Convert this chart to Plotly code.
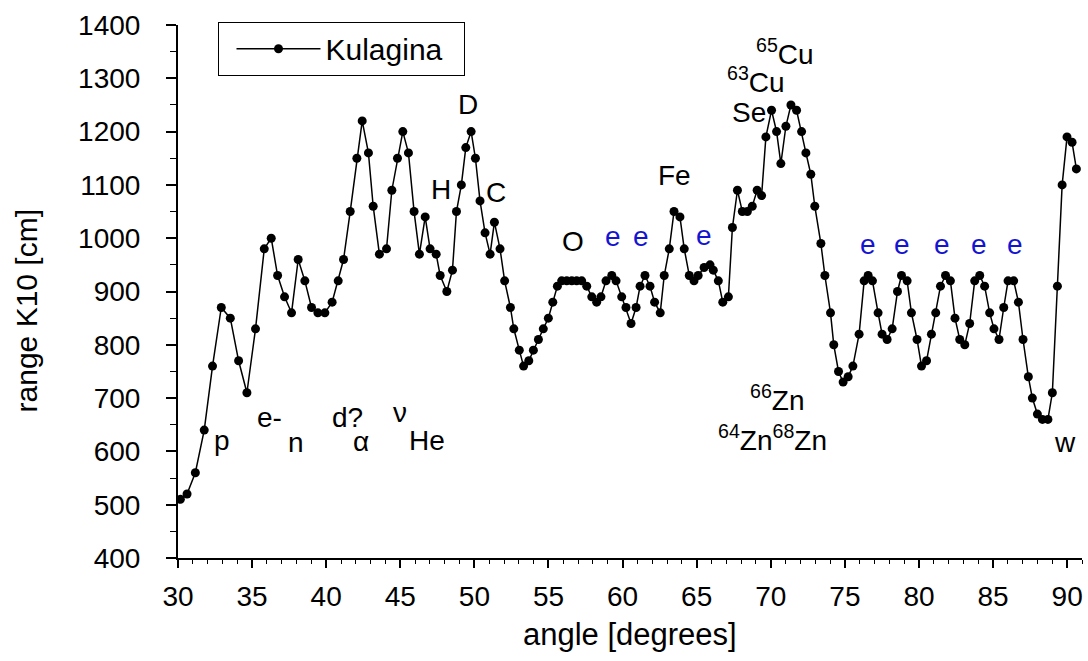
import plotly.graph_objects as go

# ---------------- data ----------------
angle = [30.16, 30.61, 31.17, 31.77, 32.33, 32.92, 33.53, 34.09, 34.65, 35.23,
         35.82, 36.29, 36.72, 37.19, 37.66, 38.11, 38.56, 39.01, 39.44, 39.91,
         40.40, 40.81, 41.17, 41.62, 42.07, 42.43, 42.85, 43.17, 43.59, 44.07,
         44.43, 44.81, 45.17, 45.55, 45.93, 46.29, 46.68, 47.01, 47.42, 47.69,
         48.14, 48.52, 48.79, 49.12, 49.42, 49.78, 50.07, 50.38, 50.72, 51.06,
         51.35, 51.73, 52.04, 52.43, 52.66, 53.03, 53.32, 53.67, 53.98, 54.32,
         54.65, 54.99, 55.29, 55.60, 55.89, 56.23, 56.57, 56.90, 57.24, 57.58,
         57.92, 58.25, 58.54, 58.88, 59.27, 59.56, 59.94, 60.23, 60.57, 60.91,
         61.18, 61.51, 61.85, 62.16, 62.54, 62.81, 63.15, 63.47, 63.87, 64.16,
         64.50, 64.82, 65.10, 65.50, 65.90, 66.12, 66.46, 66.76, 67.14, 67.41,
         67.75, 68.08, 68.42, 68.75, 69.08, 69.38, 69.67, 70.05, 70.39, 70.68,
         71.02, 71.36, 71.74, 72.08, 72.37, 72.70, 72.97, 73.38, 73.65, 74.03,
         74.25, 74.57, 74.88, 75.22, 75.54, 75.96, 76.30, 76.57, 76.86, 77.24,
         77.51, 77.85, 78.19, 78.55, 78.82, 79.20, 79.49, 79.87, 80.17, 80.51,
         80.84, 81.13, 81.45, 81.79, 82.12, 82.43, 82.75, 83.09, 83.42, 83.76,
         84.10, 84.43, 84.77, 85.06, 85.40, 85.72, 86.01, 86.39, 86.71, 87.02,
         87.38, 87.65, 87.99, 88.33, 88.70, 89.00, 89.34, 89.66, 89.99, 90.33,
         90.62]

range_k10 = [510, 520, 560, 640, 760, 870, 850, 770, 710, 830,
             980, 1000, 930, 890, 860, 960, 920, 870, 860, 860,
             880, 920, 960, 1050, 1150, 1220, 1160, 1060, 970, 980,
             1090, 1150, 1200, 1160, 1050, 970, 1040, 980, 970, 930,
             900, 940, 1050, 1100, 1170, 1200, 1150, 1070, 1010, 970,
             1030, 980, 920, 870, 830, 790, 760, 770, 790, 810,
             830, 850, 880, 910, 920, 920, 920, 920, 920, 910,
             890, 880, 890, 920, 930, 920, 890, 870, 840, 870,
             910, 930, 910, 880, 860, 930, 980, 1050, 1040, 980,
             930, 920, 930, 945, 950, 940, 920, 880, 890, 1020,
             1090, 1050, 1050, 1060, 1090, 1080, 1190, 1240, 1200, 1140,
             1210, 1250, 1240, 1200, 1160, 1120, 1060, 990, 930, 860,
             800, 750, 730, 740, 760, 820, 920, 930, 920, 860,
             820, 810, 830, 900, 930, 920, 860, 810, 760, 770,
             820, 860, 910, 930, 920, 850, 810, 800, 840, 920,
             930, 910, 860, 830, 810, 870, 920, 920, 880, 810,
             740, 700, 670, 660, 660, 710, 910, 1100, 1190, 1180,
             1130]

x_ticks = [30, 35, 40, 45, 50, 55, 60, 65, 70, 75, 80, 85, 90]
y_ticks = [400, 500, 600, 700, 800, 900, 1000, 1100, 1200, 1300, 1400]

# peak labels: text, angle, baseline value, colour
label_text = ["p", "e-", "n", "d?", "\u03b1", "\u03bd", "He", "H", "D", "C", "O",
              "e", "e", "e", "Fe", "Se",
              "<sup>63</sup>Cu", "<sup>65</sup>Cu", "<sup>66</sup>Zn",
              "<sup>64</sup>Zn<sup>68</sup>Zn",
              "e", "e", "e", "e", "e", "w"]
label_x = [32.97, 36.19, 37.98, 41.45, 42.38, 44.99, 46.79, 47.74, 49.60, 51.44, 56.62,
           59.32, 61.23, 65.48, 63.51, 68.50,
           68.98, 70.97, 70.44,
           70.11,
           76.55, 78.85, 81.52, 84.07, 86.48, 89.85]
label_y = [600, 644, 597, 644, 599, 653, 600, 1071, 1231, 1066, 975,
           983, 983, 986, 1098, 1217,
           1273, 1325, 675,
           600,
           969, 969, 969, 969, 969, 597]
label_color = ["black"] * 11 + ["#1414d2"] * 3 + ["black"] * 6 + ["#1414d2"] * 5 + ["black"]

FONT = "Arial, Liberation Sans, sans-serif"

fig = go.Figure()
fig.add_trace(go.Scatter(
    x=angle, y=range_k10, mode="lines+markers", name="Kulagina\u00a0\u00a0",
    line=dict(color="black", width=1.5),
    marker=dict(color="black", size=9, line=dict(width=0)),
))

annotations = []
for t, xv, yv, c in zip(label_text, label_x, label_y, label_color):
    annotations.append(dict(
        x=xv, y=yv, xref="x", yref="y", text=t, showarrow=False,
        xanchor="center", yanchor="bottom", yshift=-7,
        font=dict(family=FONT, size=28, color=c),
    ))

# axis titles
annotations.append(dict(
    x=0.5, y=-0.1669, xref="paper", yref="paper", text="angle [degrees]",
    showarrow=False, xanchor="center", yanchor="bottom", yshift=-7,
    font=dict(family=FONT, size=31, color="black"),
))
annotations.append(dict(
    x=-0.1675, y=0.4637, xref="paper", yref="paper", text="range K10 [cm]",
    showarrow=False, xanchor="center", yanchor="middle", textangle=-90,
    font=dict(family=FONT, size=30, color="black"),
))

fig.update_layout(
    width=1088, height=661,
    margin=dict(l=178, r=6, t=25, b=103),
    paper_bgcolor="white", plot_bgcolor="white",
    font=dict(family=FONT, size=28, color="black"),
    showlegend=True,
    legend=dict(
        x=0.0448, y=1.0062, xanchor="left", yanchor="top",
        bordercolor="black", borderwidth=1, bgcolor="white",
        font=dict(family=FONT, size=30, color="black"),
        itemwidth=84, indentation=12,
    ),
    annotations=annotations,
)

fig.update_xaxes(
    range=[30, 91], tickmode="array", tickvals=x_ticks,
    showline=True, linecolor="black", linewidth=2, mirror=False,
    showgrid=False, zeroline=False,
    ticks="outside", ticklen=8, tickwidth=1.5, tickcolor="black",
    ticklabelstandoff=4,
    minor=dict(dtick=1, ticks="outside", ticklen=4, tickwidth=1, tickcolor="black", showgrid=False),
    tickfont=dict(family=FONT, size=28, color="black"),
)
fig.update_yaxes(
    range=[400, 1400], tickmode="array", tickvals=y_ticks,
    showline=True, linecolor="black", linewidth=2, mirror=False,
    showgrid=False, zeroline=False,
    ticks="outside", ticklen=10, tickwidth=1.5, tickcolor="black",
    ticklabelstandoff=20,
    minor=dict(tickvals=[450, 550, 650, 750, 850, 950, 1050, 1150, 1250, 1350],
               ticks="outside", ticklen=6, tickwidth=1, tickcolor="black", showgrid=False),
    tickfont=dict(family=FONT, size=28, color="black"),
)

fig.write_html("out.html", config={"displayModeBar": False},
               post_script="document.body.style.margin='0';")
